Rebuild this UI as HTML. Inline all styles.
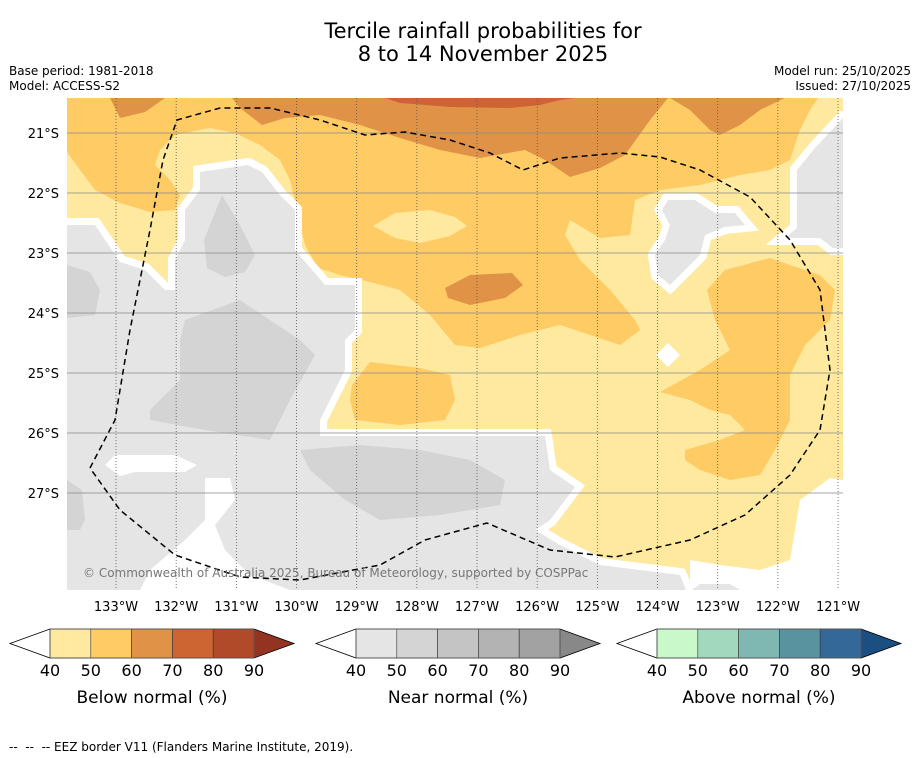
<!DOCTYPE html>
<html><head><meta charset="utf-8"><style>
body{margin:0;background:#fff;width:919px;height:758px;overflow:hidden;font-family:"Liberation Sans","DejaVu Sans",sans-serif}
svg{position:absolute;left:0;top:0}
</style></head><body>
<svg id="s" width="919" height="758" font-family="DejaVu Sans, Liberation Sans, sans-serif">
<text x="483" y="38" font-size="21" text-anchor="middle">Tercile rainfall probabilities for</text>
<text x="483" y="61" font-size="21" text-anchor="middle">8 to 14 November 2025</text>
<text x="9" y="75" font-size="12">Base period: 1981-2018</text>
<text x="9" y="90" font-size="12">Model: ACCESS-S2</text>
<text x="911" y="75" font-size="12" text-anchor="end">Model run: 25/10/2025</text>
<text x="911" y="90" font-size="12" text-anchor="end">Issued: 27/10/2025</text>
<defs><clipPath id="mc"><rect x="67" y="98" width="776" height="492"/></clipPath></defs>
<g clip-path="url(#mc)">
<rect x="67" y="98" width="776" height="492" fill="#FEE99E"/>
<polygon fill="#FECB65" points="67,98 818,98 810,110 800,130 790,160 770,170 740,175 700,185 660,190 635,200 630,235 600,238 570,220 565,235 580,260 610,290 635,320 640,330 620,345 590,335 560,325 520,335 480,348 455,345 430,315 400,290 370,282 340,275 318,268 305,245 297,210 290,180 280,160 260,145 235,133 210,128 175,135 160,150 155,165 170,180 180,195 175,210 150,212 120,203 95,190 80,170 67,152"/>
<polygon fill="#FEE99E" points="373,226 395,213 430,210 455,217 467,226 450,236 420,243 395,238"/>
<polygon fill="#FECB65" points="352,385 370,362 420,368 450,375 455,400 445,420 400,425 355,420 350,400"/>
<polygon fill="#FECB65" points="707,290 725,270 770,258 790,265 820,275 835,290 830,320 805,345 800,355 790,375 790,420 775,450 760,475 730,480 700,470 685,460 685,450 720,440 745,430 730,415 710,410 690,400 660,392 700,370 730,350 715,320"/>
<polygon fill="#E09347" points="110,98 120,118 145,112 165,98"/>
<polygon fill="#E09347" points="232,98 240,108 262,125 285,118 320,115 360,125 400,138 440,150 480,158 525,150 545,160 570,177 600,168 625,155 650,120 668,98"/>
<polygon fill="#E09347" points="670,98 690,110 710,130 720,135 740,125 760,110 785,98"/>
<polygon fill="#E09347" points="445,288 470,275 512,273 523,285 505,298 470,305 448,298"/>
<polygon fill="#CC6532" points="385,98 400,103 450,107 510,108 540,105 560,100 575,98"/>
<g stroke="#fff" stroke-width="14" stroke-linejoin="miter" paint-order="stroke" fill="#E5E5E5">
<polygon points="67,225 95,225 120,262 145,270 165,290 175,290 175,260 185,240 185,210 200,190 200,172 248,165 262,172 280,195 295,210 295,250 325,285 355,285 355,330 345,340 345,370 320,420 320,436 545,436 550,470 575,487 550,520 535,530 560,545 600,565 640,570 680,575 690,600 60,600 60,225"/>
<polygon points="850,118 843,118 815,148 797,170 797,228 785,238 820,238 833,248 850,248"/>
<polygon points="668,200 695,200 715,213 735,213 745,225 725,227 705,235 700,255 670,285 658,275 655,255 665,240 670,225 662,210"/>
</g>
<g fill="#D4D4D4">
<polygon points="222,195 240,225 255,255 245,272 225,277 207,268 204,240"/>
<polygon points="185,320 240,300 300,340 315,355 290,400 270,440 205,430 150,420 150,410 180,380 180,340"/>
<polygon points="300,450 360,445 420,450 470,460 505,480 500,505 440,515 380,520 345,500 310,470"/>
<polygon points="67,265 90,272 100,290 95,315 67,318"/>
<polygon points="67,480 82,490 85,520 80,530 67,530"/>
</g>
<g fill="#fff">
<polygon points="105,465 115,455 175,455 197,465 185,472 135,472 120,476"/>
<polygon points="205,478 230,478 235,500 215,525 225,550 250,575 290,590 140,590 150,570 185,540 205,520"/>
<polygon points="690,560 720,565 760,570 790,560 800,500 830,478 843,480 843,590 690,590"/>
<polygon points="668,343 680,355 668,367 656,355"/>
</g>
<polygon fill="#E5E5E5" points="692,590 700,584 730,584 740,590"/>
<g id="grid"></g>
<polyline fill="none" stroke="#000" stroke-width="1.5" stroke-dasharray="6,4" points="90,468 115,420 130,330 150,230 163,160 177,120 220,108 270,108 320,120 365,135 405,132 450,140 490,153 523,170 560,158 620,153 660,157 700,170 750,197 790,240 820,290 830,370 820,430 790,475 745,515 690,540 615,557 550,550 487,523 425,540 380,565 300,580 240,577 175,555 120,510 90,468"/>
<text x="83" y="577" font-size="12" fill="#777">© Commonwealth of Australia 2025, Bureau of Meteorology, supported by COSPPac</text>
</g>
<g id="axes"></g>
<g id="cbars"></g>
<text x="9" y="751" font-size="12" xml:space="preserve">--  --  -- EEZ border V11 (Flanders Marine Institute, 2019).</text>
</svg>
<script>
const lonTicks=[133,132,131,130,129,128,127,126,125,124,123,122,121];
const latTicks=[21,22,23,24,25,26,27];
const cbTicks=[40,50,60,70,80,90];
const belowColors=["#FEE99E","#FECB65","#E09347","#CC6532","#B04A28","#923421"];
const nearColors=["#E5E5E5","#D4D4D4","#C4C4C4","#B3B3B3","#A2A2A2","#888888"];
const aboveColors=["#C9F9CB","#A2D8BD","#7FB7B2","#5A93A0","#336898","#1B4F82"];
const cbTitles=["Below normal (%)","Near normal (%)","Above normal (%)"];
const NS="http://www.w3.org/2000/svg";
function mk(t,a,p){const e=document.createElementNS(NS,t);for(const k in a)e.setAttribute(k,a[k]);p.appendChild(e);return e;}
const xLon=l=>116+(133-l)*60.17;
const yLat=l=>133+(l-21)*60;
const grid=document.getElementById('grid'),axes=document.getElementById('axes');
lonTicks.forEach(l=>{const x=xLon(l);
 const ln=mk('line',{x1:x,x2:x,y1:98,y2:590,stroke:'#555','stroke-width':0.8,'stroke-dasharray':'1,2'},grid);
 
 const t=mk('text',{x:x,y:611,'font-size':13,'text-anchor':'middle'},axes);t.textContent=l+'°W';
 });
latTicks.forEach(l=>{const y=yLat(l);
 const ln=mk('line',{x1:67,x2:843,y1:y,y2:y,stroke:'#888','stroke-width':0.8},grid);
 
 const t=mk('text',{x:59,y:y+5,'font-size':13,'text-anchor':'end'},axes);t.textContent=l+'°S';
 });
const cb=document.getElementById('cbars');
[belowColors,nearColors,aboveColors].forEach((cols,i)=>{
 const x0=[50,356,657][i],w=204,y0=629,h=29;const sx=v=>x0+(v-40)/50*w;
 const g=mk('g',{},cb);
 const lt=mk('polygon',{points:`${x0},${y0} ${x0-40},${y0+h/2} ${x0},${y0+h}`,fill:'#fff',stroke:'#000','stroke-width':0.8},g);
 
 for(let k=0;k<5;k++){const r=mk('rect',{x:sx(cbTicks[k]),y:y0,width:sx(cbTicks[k+1])-sx(cbTicks[k]),height:h,fill:cols[k],stroke:'#333','stroke-width':0.6},g);
  }
 const rt=mk('polygon',{points:`${x0+w},${y0} ${x0+w+40},${y0+h/2} ${x0+w},${y0+h}`,fill:cols[5],stroke:'#000','stroke-width':0.8},g);
 
 mk('rect',{x:x0,y:y0,width:w,height:h,fill:'none',stroke:'#555','stroke-width':1},g);
 cbTicks.forEach(v=>{const t=mk('text',{x:sx(v),y:676,'font-size':16,'text-anchor':'middle'},g);t.textContent=v;
  });
 const tt=mk('text',{x:x0+w/2,y:703,'font-size':17,'text-anchor':'middle'},g);tt.textContent=cbTitles[i];
 
});
</script>
</body></html>
